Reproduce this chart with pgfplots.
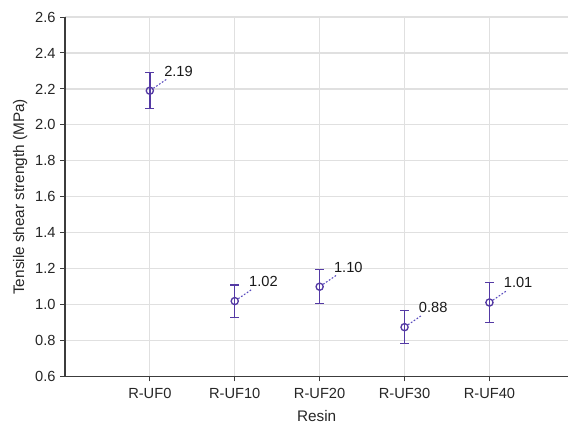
\documentclass[border=0pt]{standalone}
\usepackage{pgfplots}
\pgfplotsset{compat=1.18}
\usepackage{fontspec}
\setmainfont{Liberation Sans}
\definecolor{plotc}{RGB}{84,58,164}
\definecolor{leadc}{RGB}{90,76,190}
\definecolor{gridc}{RGB}{224,224,224}
\definecolor{axc}{RGB}{60,60,60}
\begin{document}
\begin{tikzpicture}
\begin{axis}[
  scale only axis, width=378pt, height=270pt,
  xmin=-1, xmax=4.93, ymin=0.6, ymax=2.6,
  xtick={0,1,2,3,4},
  xticklabels={R-UF0,R-UF10,R-UF20,R-UF30,R-UF40},
  ytick={0.6,0.8,1.0,1.2,1.4,1.6,1.8,2.0,2.2,2.4,2.6},
  yticklabel style={/pgf/number format/.cd, fixed, fixed zerofill, precision=1},
  /pgf/number format/assume math mode=true,
  grid=major, major grid style={gridc, line width=0.9pt},
  axis x line*=bottom, axis y line*=left,
  axis line style={axc, line width=0.9pt, -},
  tick style={axc, line width=0.7pt},
  tick align=outside, major tick length=3.5pt,
  tick label style={font=\fontsize{11}{13}\selectfont, text=black!85},
  xticklabel style={yshift=-1.5pt},
  label style={font=\fontsize{11.5}{14}\selectfont, text=black!85},
  xlabel={Resin}, ylabel={Tensile shear strength (MPa)},
  xlabel style={yshift=-2pt},
  ylabel style={yshift=-1pt},
  clip=false,
]
\addplot[color=plotc, mark=o, mark size=2.7pt, only marks, mark options={line width=1pt},
  error bars/.cd, y dir=both, y explicit,
  error bar style={plotc, line width=1pt},
  error mark options={rotate=90, mark size=3.3pt, color=plotc, line width=1pt}]
coordinates {
 (0,2.19) +- (0,0.10)
 (1,1.02) +- (0,0.09)
 (2,1.10) +- (0,0.095)
 (3,0.875) +- (0,0.092)
 (4,1.012) +- (0,0.112)
};
\addplot[draw=none, mark=none, point meta=explicit,
  nodes near coords={},
  every node near coord/.style={circle, inner sep=0pt, minimum size=6pt, anchor=center,
    pin={[pin distance=9pt, pin edge={leadc, line width=0.8pt, dash pattern=on 1.3pt off 1.3pt}, font=\fontsize{11}{13}\selectfont, text=black!90, inner sep=2pt]45:{\pgfmathprintnumber[fixed,fixed zerofill,precision=2]{\pgfplotspointmeta}}}}]
coordinates {
 (0,2.19) [2.19]
 (1,1.02) [1.02]
 (2,1.10) [1.10]
 (3,0.875) [0.88]
 (4,1.012) [1.01]
};
\end{axis}
\path (-48.75pt,-36pt) (0pt,282.75pt);
\end{tikzpicture}
\end{document}
